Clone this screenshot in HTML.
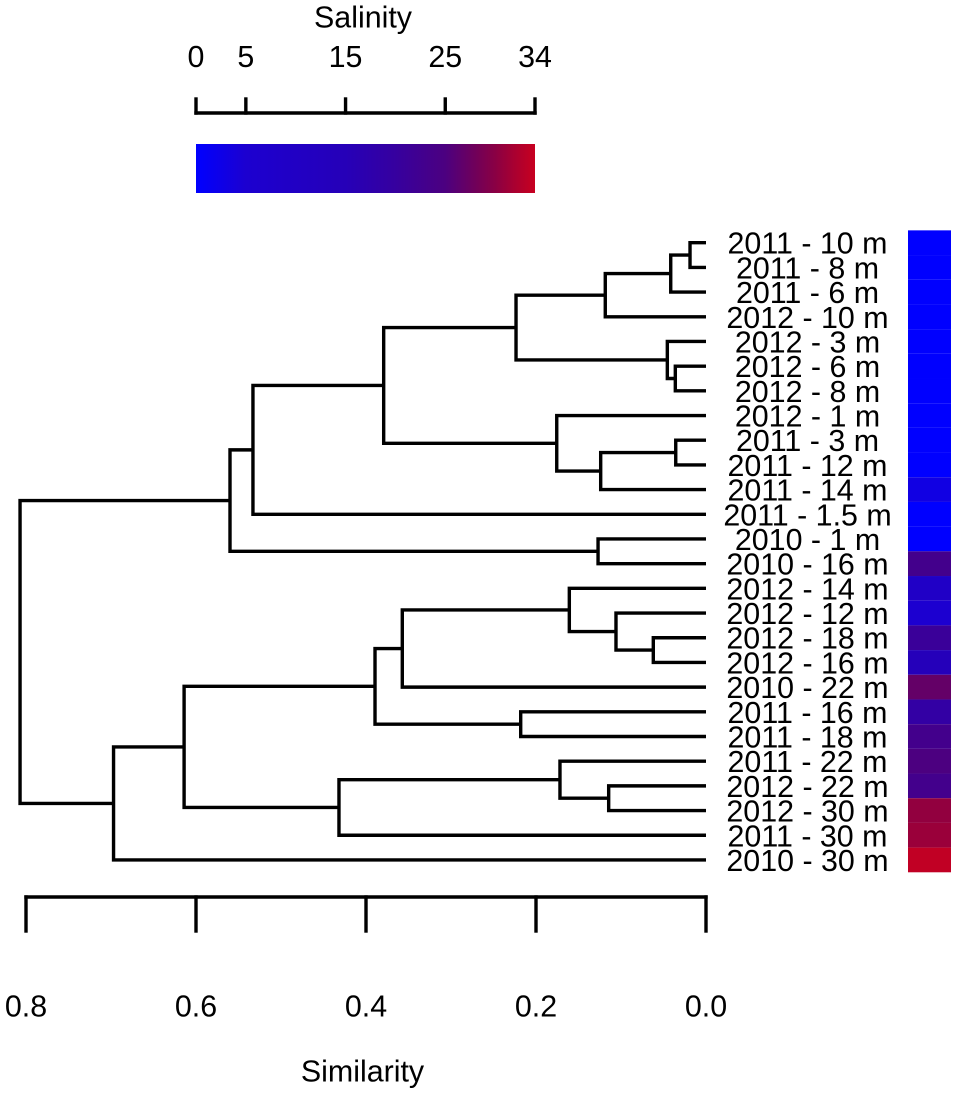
<!DOCTYPE html>
<html lang="en">
<head>
<meta charset="utf-8">
<title>Salinity dendrogram</title>
<style>
html,body{margin:0;padding:0;background:#fff;}
svg{display:block;font-family:"Liberation Sans",Arial,sans-serif;filter:blur(0.35px);}
text{fill:#000;font-size:30.4px;text-anchor:middle;}
</style>
</head>
<body>
<svg id="chart" width="957" height="1095" viewBox="0 0 957 1095" xmlns="http://www.w3.org/2000/svg">
  <defs>
    <linearGradient id="salinityGradient" x1="0" x2="1" y1="0" y2="0"></linearGradient>
  </defs>
  <g id="legend"></g>
  <g id="tree"></g>
  <g id="leafLabels"></g>
  <g id="strip"></g>
  <g id="axis"></g>
</svg>
<script>
const sampleLabels = ["2011 - 10 m","2011 - 8 m","2011 - 6 m","2012 - 10 m","2012 - 3 m","2012 - 6 m","2012 - 8 m","2012 - 1 m","2011 - 3 m","2011 - 12 m","2011 - 14 m","2011 - 1.5 m","2010 - 1 m","2010 - 16 m","2012 - 14 m","2012 - 12 m","2012 - 18 m","2012 - 16 m","2010 - 22 m","2011 - 16 m","2011 - 18 m","2011 - 22 m","2012 - 22 m","2012 - 30 m","2011 - 30 m","2010 - 30 m"];
const sampleSalinity = [0,0,0,0,0,0,0,0,0,0,3,0,0,23,9,5,21,14,27,19,23,25,23,30.5,31,33.5];
const mergeLeft = [-1,1,2,-6,-5,3,-9,7,-8,6,10,-13,11,-17,-16,-15,16,-20,17,-23,-22,21,19,23,13];
const mergeRight = [-2,-3,-4,-7,4,5,-10,-11,8,9,-12,-14,12,-18,14,15,-19,-21,18,-24,20,-25,22,-26,24];
const mergeHeight = [0.0188,0.0415,0.1185,0.0361,0.0455,0.2235,0.0356,0.1239,0.1756,0.3792,0.533,0.127,0.56,0.062,0.1059,0.1608,0.3573,0.218,0.3894,0.1145,0.1718,0.4318,0.614,0.697,0.807];
const similarityTicks = [0.8,0.6,0.4,0.2,0.0];
const salinityTicks = [0,5,15,25,34];
const scaleSalinity = [0,5,10,15,20,25,28,30,32,34];
const scaleRed = [0,28,33,38,54,76,112,138,170,200];
const scaleBlue = [255,208,196,184,159,128,90,68,48,32];

const NS = 'http://www.w3.org/2000/svg';
const xOfSimilarity = h => 706 - 850 * h;
const yOfLeaf = i => 242.7 + 24.69 * i;
const xOfSalinity = s => 196 + (535 - 196) * s / 34;

function make(tag, parent, attrs, txt) {
  const el = document.createElementNS(NS, tag);
  for (const k in attrs) el.setAttribute(k, attrs[k]);
  if (txt !== undefined) el.textContent = txt;
  parent.appendChild(el);
  return el;
}
function colorOf(s) {
  let i = 0;
  while (i < scaleSalinity.length - 2 && s > scaleSalinity[i + 1]) i++;
  const t = (s - scaleSalinity[i]) / (scaleSalinity[i + 1] - scaleSalinity[i]);
  const r = Math.round(scaleRed[i] + (scaleRed[i + 1] - scaleRed[i]) * t);
  const b = Math.round(scaleBlue[i] + (scaleBlue[i + 1] - scaleBlue[i]) * t);
  return 'rgb(' + r + ',0,' + b + ')';
}
const lineStyle = {stroke:'#000','stroke-width':3.4,'stroke-linecap':'square',fill:'none'};

/* Dendrogram */
const tree = document.getElementById('tree');
const nodes = [];
function nodeOf(ref) {
  return ref < 0
    ? {x: xOfSimilarity(0), y: yOfLeaf(-ref - 1)}
    : nodes[ref - 1];
}
mergeHeight.forEach((h, i) => {
  const a = nodeOf(mergeLeft[i]);
  const b = nodeOf(mergeRight[i]);
  const x = xOfSimilarity(h);
  const d = 'M' + a.x + ' ' + a.y + 'H' + x + 'V' + b.y + 'H' + b.x;
  const p = make('path', tree, Object.assign({d: d}, lineStyle, {'stroke-linecap':'butt','stroke-linejoin':'miter'}));
  
  
  nodes.push({x: x, y: (a.y + b.y) / 2});
});

/* Leaf labels and salinity strip */
const labelsG = document.getElementById('leafLabels');
const stripG = document.getElementById('strip');
sampleLabels.forEach((name, i) => {
  const t = make('text', labelsG, {x: 807.5, y: yOfLeaf(i) + 11}, name);
  
  
  const r = make('rect', stripG, {x: 908, y: yOfLeaf(i) - 12.345, width: 43, height: 24.69, fill: colorOf(sampleSalinity[i])});
  
  
});

/* Bottom axis */
const axisG = document.getElementById('axis');
const axisLine = make('line', axisG, Object.assign({x1: xOfSimilarity(similarityTicks[0]), x2: xOfSimilarity(similarityTicks[similarityTicks.length - 1]), y1: 897, y2: 897}, lineStyle));


similarityTicks.forEach(v => {
  const x = xOfSimilarity(v);
  const tick = make('line', axisG, Object.assign({x1: x, x2: x, y1: 897, y2: 931}, lineStyle));
  
  
  const lab = make('text', axisG, {x: x, y: 1016.5}, v.toFixed(1));
  
  
});
const simTitle = make('text', axisG, {x: 362.5, y: 1081.5}, 'Similarity');



/* Salinity legend */
const grad = document.getElementById('salinityGradient');
scaleSalinity.forEach((s, i) => {
  const st = make('stop', grad, {offset: (s / 34), 'stop-color': colorOf(s)});
  
  
});
const legendG = document.getElementById('legend');
const legTitle = make('text', legendG, {x: 363, y: 27.5}, 'Salinity');


const legLine = make('line', legendG, Object.assign({x1: xOfSalinity(0), x2: xOfSalinity(34), y1: 113, y2: 113}, lineStyle));


salinityTicks.forEach(v => {
  const x = xOfSalinity(v);
  const tick = make('line', legendG, Object.assign({x1: x, x2: x, y1: 99, y2: 113}, lineStyle));
  
  
  const lab = make('text', legendG, {x: x, y: 67}, String(v));
  
  
});
const bar = make('rect', legendG, {x: 196, y: 144, width: 339, height: 49, fill: 'url(#salinityGradient)'});


</script>
</body>
</html>
